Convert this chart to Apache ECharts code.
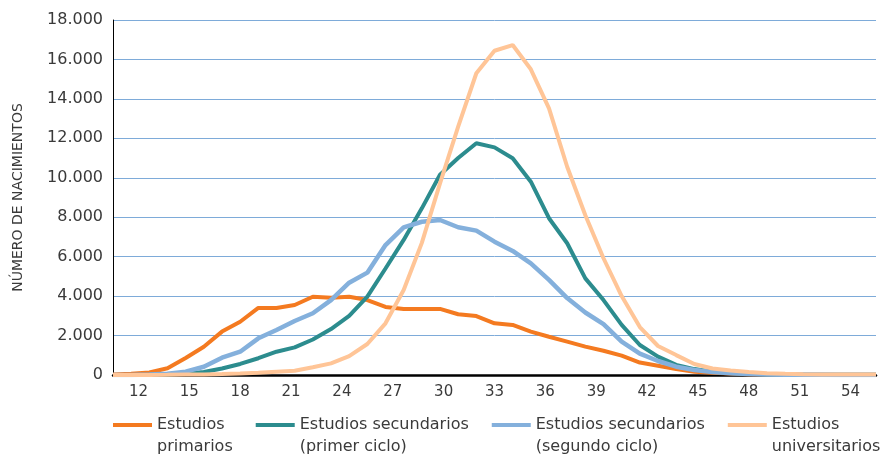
<!DOCTYPE html>
<html>
<head>
<meta charset="utf-8">
<script src="https://cdn.jsdelivr.net/npm/echarts@6/dist/echarts.min.js"></script>
<style>
  html, body { margin: 0; padding: 0; background: #fff; }
  #main { width: 885px; height: 455px; }
</style>
</head>
<body>
<div id="main"></div>
<script>
// edades del eje (etiquetas cada 3 años)
var edades = [];
for (var e = 11; e <= 55; e++) edades.push(String(e));

// valores (43 puntos por serie)
var primarios = [30, 60, 130, 340, 860, 1430, 2200, 2700, 3400, 3400, 3550, 3970, 3920, 3970, 3800, 3450, 3350, 3350, 3350, 3080, 2990, 2620, 2540, 2200, 1940, 1690, 1440, 1230, 980, 630, 470, 300, 170, 110, 70, 40, 20, 15, 10, 10, 10, 10, 10];
var secPrimer = [0, 0, 10, 30, 60, 150, 330, 560, 850, 1180, 1400, 1800, 2330, 3000, 3970, 5400, 6850, 8450, 10150, 11000, 11750, 11540, 10990, 9800, 7950, 6680, 4900, 3800, 2540, 1520, 930, 510, 300, 170, 100, 60, 30, 15, 10, 10, 10, 10, 10];
var secSegundo = [0, 5, 20, 60, 170, 420, 880, 1180, 1860, 2280, 2740, 3130, 3800, 4680, 5190, 6590, 7490, 7770, 7860, 7490, 7320, 6760, 6290, 5660, 4820, 3900, 3170, 2580, 1690, 1080, 710, 420, 250, 150, 90, 50, 30, 15, 10, 10, 5, 5, 5];
var universitarios = [0, 0, 5, 10, 20, 30, 50, 80, 120, 170, 220, 390, 590, 960, 1570, 2620, 4310, 6700, 9720, 12590, 15300, 16440, 16730, 15500, 13520, 10560, 8100, 5920, 4000, 2430, 1470, 1010, 560, 330, 230, 150, 90, 60, 40, 30, 20, 20, 20];

var puntos = primarios.map(function (v, i) { return String(i); });

function miles(v) {
  return String(v).replace(/\B(?=(\d{3})+(?!\d))/g, '.');
}

var chart = echarts.init(document.getElementById('main'));
var txt = '#3a3a3a';
var fuente = '"DejaVu Sans", sans-serif';

chart.setOption({
  animation: false,
  color: ['#F47A20', '#2C8C8E', '#84B0DC', '#FFC597'],
  grid: { left: 113, right: 9, top: 20, bottom: 80, outerBoundsMode: 'none' },
  legend: {
    left: 108,
    top: 409,
    width: 790,
    padding: [5, 0, 5, 5],
    itemWidth: 39,
    itemHeight: 26,
    itemGap: 23,
    itemStyle: { borderWidth: 0 },
    // barra arriba de la caja para alinearla con la primera línea
    icon: 'path://M0,0H39V4H0Z M0,26',
    textStyle: { color: txt, fontSize: 16, fontFamily: fuente, lineHeight: 22 },
    data: ['Estudios\nprimarios', 'Estudios secundarios\n(primer ciclo)',
           'Estudios secundarios\n(segundo ciclo)', 'Estudios\nuniversitarios']
  },
  xAxis: [{
    type: 'category',
    data: edades,
    boundaryGap: true,
    axisLine: { lineStyle: { color: '#000', width: 2.5 } },
    axisTick: {
      inside: true, length: 8, lineStyle: { color: '#000', width: 1.5 },
      interval: function (i) { return i % 3 === 0; }
    },
    axisLabel: {
      color: txt, fontSize: 15, fontFamily: fuente, margin: 10,
      interval: function (i) { return i % 3 === 1; }
    }
  }, {
    type: 'category',
    data: puntos,
    boundaryGap: false,
    show: false
  }],
  yAxis: {
    type: 'value',
    min: 0, max: 18000, interval: 2000,
    name: 'NÚMERO DE NACIMIENTOS',
    nameLocation: 'middle',
    nameGap: 88,
    nameTextStyle: { color: txt, fontSize: 14, fontFamily: fuente },
    axisLine: { show: true, lineStyle: { color: '#000', width: 1 } },
    axisTick: { show: false },
    axisLabel: { color: txt, fontSize: 16, fontFamily: fuente, margin: 10, formatter: miles },
    splitLine: { lineStyle: { color: '#7EABD9', width: 1 } }
  },
  series: [
    { name: 'Estudios\nprimarios', type: 'line', xAxisIndex: 1, data: primarios, showSymbol: false, lineStyle: { width: 4 } },
    { name: 'Estudios secundarios\n(primer ciclo)', type: 'line', xAxisIndex: 1, data: secPrimer, showSymbol: false, lineStyle: { width: 4 } },
    { name: 'Estudios secundarios\n(segundo ciclo)', type: 'line', xAxisIndex: 1, data: secSegundo, showSymbol: false, lineStyle: { width: 4.5 } },
    { name: 'Estudios\nuniversitarios', type: 'line', xAxisIndex: 1, data: universitarios, showSymbol: false, lineStyle: { width: 4 } }
  ]
});
</script>
</body>
</html>
